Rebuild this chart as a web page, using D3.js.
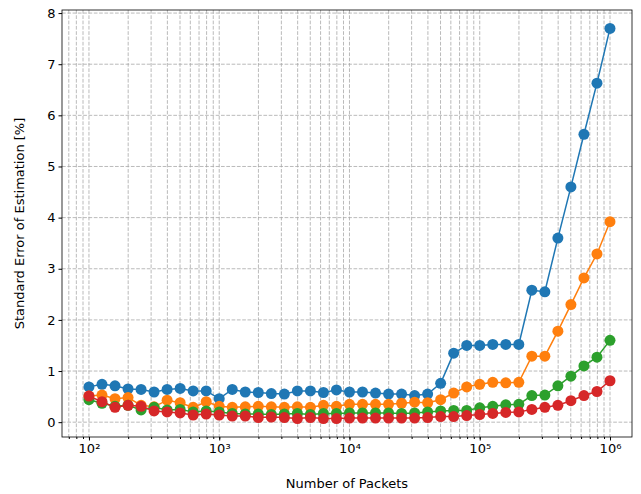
<!DOCTYPE html>
<html><head><meta charset="utf-8">
<script src="https://cdn.jsdelivr.net/npm/d3@7"></script>
<style>body{margin:0;background:#fff;font-family:"DejaVu Sans",sans-serif;}</style>
</head><body>
<script>
const packets = d3.range(41).map(i => Math.pow(10, 2 + i / 10));
const blue = [0.69,0.74,0.71,0.65,0.64,0.59,0.64,0.66,0.61,0.61,
  0.46,0.64,0.59,0.58,0.56,0.55,0.61,0.61,0.58,0.63,
  0.59,0.59,0.57,0.55,0.55,0.52,0.55,0.76,1.35,1.5,
  1.5,1.52,1.52,1.52,2.58,2.55,3.6,4.6,5.63,6.63,7.7];
const orange = [0.51,0.53,0.46,0.48,0.33,0.3,0.43,0.38,0.29,0.4,
  0.31,0.29,0.3,0.31,0.3,0.29,0.3,0.29,0.33,0.31,
  0.35,0.35,0.35,0.35,0.37,0.39,0.38,0.44,0.57,0.69,
  0.74,0.78,0.77,0.78,1.29,1.29,1.78,2.3,2.82,3.29,3.92];
const green = [0.44,0.37,0.31,0.33,0.24,0.29,0.24,0.25,0.2,0.22,
  0.2,0.17,0.16,0.16,0.15,0.16,0.17,0.15,0.17,0.17,
  0.18,0.18,0.18,0.18,0.17,0.18,0.2,0.22,0.23,0.23,
  0.28,0.31,0.34,0.35,0.52,0.53,0.71,0.9,1.1,1.27,1.6];
const red = [0.51,0.4,0.29,0.33,0.31,0.22,0.2,0.18,0.14,0.16,
  0.14,0.12,0.12,0.09,0.1,0.09,0.07,0.09,0.07,0.07,
  0.08,0.08,0.08,0.08,0.08,0.08,0.09,0.11,0.11,0.13,
  0.15,0.17,0.19,0.2,0.25,0.29,0.33,0.42,0.52,0.6,0.81];
const series = [[blue,"#1f77b4"],[orange,"#ff7f0e"],[green,"#2ca02c"],[red,"#d62728"]];
const yTicks = [0,1,2,3,4,5,6,7,8];
const xTicks = [1e2,1e3,1e4,1e5,1e6];

const w = 641, h = 494;
const m = {l: 62, r: 9, t: 10, b: 57};
const svg = d3.select("body").append("svg").attr("width", w).attr("height", h);
const x = d3.scaleLog().domain([Math.pow(10,1.793), Math.pow(10,6.169)]).range([m.l, w - m.r]);
const y = d3.scaleLinear().domain([-0.29, 8.06]).range([h - m.b, m.t]);

// grid
const minor = [];
for (let e = 1; e <= 6; e++) for (let k = 1; k < 10; k++) {
  const v = k * Math.pow(10, e);
  if (v >= x.domain()[0] && v <= x.domain()[1]) minor.push(v);
}
svg.append("g").selectAll("line").data(minor).enter().append("line")
  .attr("x1", d => x(d)).attr("x2", d => x(d)).attr("y1", m.t).attr("y2", h - m.b)
  .attr("stroke", "#a8a8a8").attr("stroke-width", 0.8).attr("stroke-dasharray", "3.7,1.6");
svg.append("g").selectAll("line").data(yTicks).enter().append("line")
  .attr("x1", m.l).attr("x2", w - m.r).attr("y1", d => y(d)).attr("y2", d => y(d))
  .attr("stroke", "#a8a8a8").attr("stroke-width", 0.8).attr("stroke-dasharray", "3.7,1.6");

const sup = {2:"²",3:"³",4:"⁴",5:"⁵",6:"⁶"};
svg.append("g").attr("transform", `translate(0,${h - m.b})`)
  .call(d3.axisBottom(x).tickValues(xTicks).tickSize(3.5).tickFormat(d => "10" + sup[Math.round(Math.log10(d))]))
  .call(g => g.select(".domain").remove());
svg.append("g").attr("transform", `translate(0,${h - m.b})`)
  .call(d3.axisBottom(x).tickValues(minor).tickSize(2).tickFormat(""))
  .call(g => g.select(".domain").remove());
svg.append("g").attr("transform", `translate(${m.l},0)`)
  .call(d3.axisLeft(y).tickValues(yTicks).tickSize(3.5))
  .call(g => g.select(".domain").remove());
svg.selectAll(".tick text").attr("font-size", 13).attr("fill", "#000").attr("font-family", "DejaVu Sans");
svg.selectAll(".tick line").attr("stroke", "#000");

const line = d3.line().x((d, i) => x(packets[i])).y(d => y(d));
series.forEach(([vals, c]) => {
  svg.append("path").datum(vals).attr("d", line).attr("fill", "none").attr("stroke", c).attr("stroke-width", 1.5);
  svg.append("g").selectAll("circle").data(vals).enter().append("circle")
    .attr("cx", (d, i) => x(packets[i])).attr("cy", d => y(d)).attr("r", 5.5).attr("fill", c);
});

svg.append("rect").attr("x", m.l).attr("y", m.t).attr("width", w - m.l - m.r).attr("height", h - m.t - m.b)
  .attr("fill", "none").attr("stroke", "#000").attr("stroke-width", 0.8);

svg.append("text").attr("x", (m.l + w - m.r) / 2).attr("y", h - 6).attr("text-anchor", "middle")
  .attr("font-size", 13).text("Number of Packets");
svg.append("text").attr("transform", `translate(24,${(m.t + h - m.b) / 2}) rotate(-90)`).attr("text-anchor", "middle")
  .attr("font-size", 13).text("Standard Error of Estimation [%]");
</script>
</body></html>
